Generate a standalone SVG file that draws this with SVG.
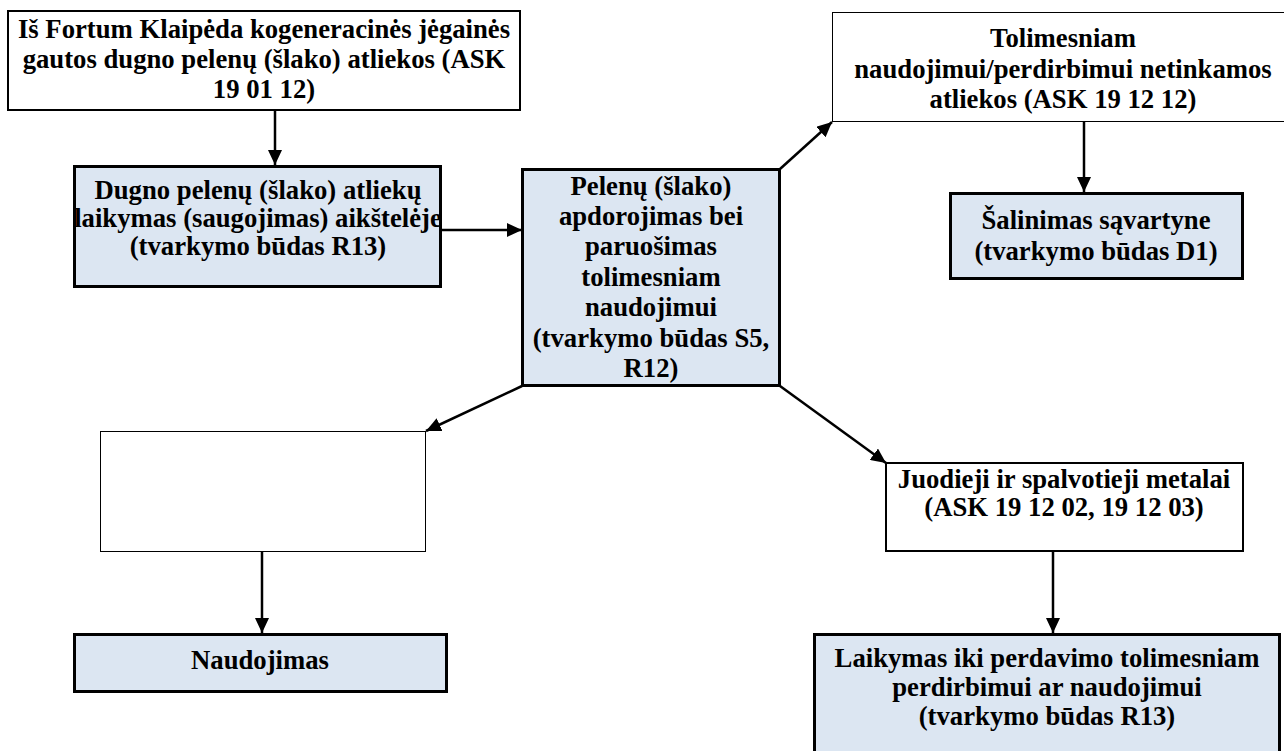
<svg xmlns="http://www.w3.org/2000/svg" width="1284" height="751" viewBox="0 0 1284 751">
<defs>
<marker id="ah" viewBox="0 0 15 14" refX="15" refY="7" markerWidth="15" markerHeight="14" markerUnits="userSpaceOnUse" orient="auto">
<path d="M0,0 L15,7 L0,14 Z" fill="#000"/>
</marker>
<style>
.blue{fill:#DCE6F2;stroke:#000;stroke-width:3}
.white{fill:#fff;stroke:#000;stroke-width:2}
.thin{fill:#fff;stroke:#000;stroke-width:1}
.conn line{stroke:#000;stroke-width:2.5;marker-end:url(#ah)}
</style>
</defs>
<rect width="1284" height="751" fill="#fff"/>
<g font-family="'Liberation Serif', 'Times New Roman', 'DejaVu Serif', serif" font-weight="bold" font-size="26.7" text-anchor="middle" fill="#000">
<g id="n1">
<rect class="white" x="8" y="11" width="512" height="99"/>
<text x="264" y="38">Iš Fortum Klaipėda kogeneracinės jėgainės</text>
<text x="264" y="68">gautos dugno pelenų (šlako) atliekos (ASK</text>
<text x="264" y="98">19 01 12)</text>
</g>
<g id="n2">
<rect class="blue" x="74.5" y="166.5" width="366" height="120"/>
<text x="258" y="199">Dugno pelenų (šlako) atliekų</text>
<text x="258" y="227">laikymas (saugojimas) aikštelėje</text>
<text x="258" y="255">(tvarkymo būdas R13)</text>
</g>
<g id="n3">
<rect class="blue" x="522.5" y="169.5" width="257" height="216"/>
<text x="651" y="195">Pelenų (šlako)</text>
<text x="651" y="225">apdorojimas bei</text>
<text x="651" y="255">paruošimas</text>
<text x="651" y="286">tolimesniam</text>
<text x="651" y="316">naudojimui</text>
<text x="651" y="347">(tvarkymo būdas S5,</text>
<text x="651" y="377">R12)</text>
</g>
<g id="n4">
<rect class="thin" x="832.5" y="12.5" width="452" height="109"/>
<text x="1063" y="47">Tolimesniam</text>
<text x="1063" y="78">naudojimui/perdirbimui netinkamos</text>
<text x="1063" y="108">atliekos (ASK 19 12 12)</text>
</g>
<g id="n5">
<rect class="blue" x="950.5" y="193.5" width="292" height="85"/>
<text x="1096" y="229">Šalinimas sąvartyne</text>
<text x="1096" y="260">(tvarkymo būdas D1)</text>
</g>
<g id="n6">
<rect class="thin" x="100.5" y="431.5" width="325" height="120"/>
</g>
<g id="n7">
<rect class="blue" x="74.5" y="634.5" width="372" height="57"/>
<text x="260" y="669">Naudojimas</text>
</g>
<g id="n8">
<rect class="white" x="886" y="463" width="357" height="88"/>
<text x="1064" y="488">Juodieji ir spalvotieji metalai</text>
<text x="1064" y="516">(ASK 19 12 02, 19 12 03)</text>
</g>
<g id="n9">
<rect class="blue" x="814.5" y="634.5" width="465" height="130"/>
<text x="1047" y="667">Laikymas iki perdavimo tolimesniam</text>
<text x="1047" y="696">perdirbimui ar naudojimui</text>
<text x="1047" y="725">(tvarkymo būdas R13)</text>
</g>
</g>
<g id="connectors" class="conn">
<line x1="275" y1="110" x2="275" y2="165"/>
<line x1="441" y1="230" x2="522" y2="230"/>
<line x1="780" y1="169" x2="832" y2="122"/>
<line x1="1084" y1="122" x2="1084" y2="192"/>
<line x1="522" y1="386" x2="426" y2="431"/>
<line x1="262" y1="552" x2="262" y2="633"/>
<line x1="780" y1="386" x2="886" y2="463"/>
<line x1="1053" y1="551" x2="1053" y2="633"/>
</g>
</svg>
